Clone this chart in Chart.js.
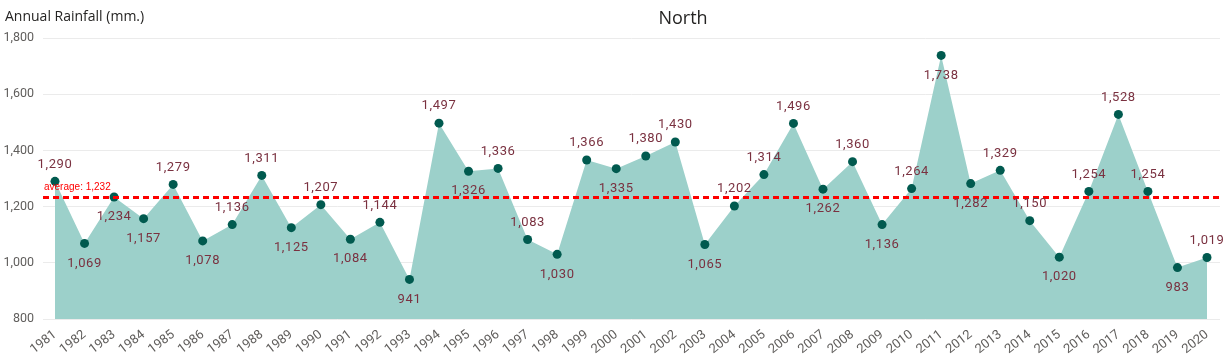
<!DOCTYPE html>
<html>
<head>
<meta charset="utf-8">
<script src="https://cdn.jsdelivr.net/npm/chart.js@4.4.1/dist/chart.umd.min.js"></script>
<style>
  html, body { margin: 0; padding: 0; background: #fff; }
  #wrap { width: 1225px; height: 357px; position: relative; }
</style>
</head>
<body>
<div id="wrap"><canvas id="c" width="1225" height="357"></canvas></div>
<script>
const years = [1981,1982,1983,1984,1985,1986,1987,1988,1989,1990,1991,1992,1993,1994,1995,1996,1997,1998,1999,2000,2001,2002,2003,2004,2005,2006,2007,2008,2009,2010,2011,2012,2013,2014,2015,2016,2017,2018,2019,2020];
const rainfall = [1290,1069,1234,1157,1279,1078,1136,1311,1125,1207,1084,1144,941,1497,1326,1336,1083,1030,1366,1335,1380,1430,1065,1202,1314,1496,1262,1360,1136,1264,1738,1282,1329,1150,1020,1254,1528,1254,983,1019];
const labelPos = ['a','b','b','b','a','b','a','a','b','a','b','a','b','a','b','a','a','b','a','b','a','a','b','a','a','a','b','a','b','a','b','b','a','a','b','a','a','a','b','a'];
const yTicks = [800,1000,1200,1400,1600,1800];
const averageValue = 1232;
const chartTitle = 'North';
const axisTitle = 'Annual Rainfall (mm.)';

const fmt = v => v.toLocaleString('en-US');

const overlay = {
  id: 'overlay',
  afterDatasetsDraw(chart) {
    const ctx = chart.ctx, area = chart.chartArea;
    const ys = chart.scales.y;
    const yAvg = ys.getPixelForValue(averageValue);
    ctx.save();
    ctx.strokeStyle = '#ff0000';
    ctx.lineWidth = 3;
    ctx.setLineDash([6, 4]);
    ctx.beginPath();
    ctx.moveTo(area.left, yAvg);
    ctx.lineTo(area.right, yAvg);
    ctx.stroke();
    ctx.setLineDash([]);
    ctx.fillStyle = '#ff0000';
    ctx.font = '10px "Liberation Sans", Arial, sans-serif';
    ctx.textAlign = 'left';
    ctx.textBaseline = 'alphabetic';
    ctx.fillText('average: ' + fmt(averageValue), area.left + 1, yAvg - 8);
    ctx.restore();
  },
  afterDraw(chart) {
    const ctx = chart.ctx;
    const meta = chart.getDatasetMeta(0);
    ctx.save();
    ctx.fillStyle = '#7a3140';
    ctx.font = '13px Roboto, sans-serif';
    if ('letterSpacing' in ctx) ctx.letterSpacing = '0.6px';
    ctx.textAlign = 'center';
    ctx.textBaseline = 'middle';
    meta.data.forEach((pt, i) => {
      const dy = labelPos[i] === 'a' ? -17 : 20;
      ctx.fillText(fmt(rainfall[i]), pt.x, pt.y + dy);
    });
    if ('letterSpacing' in ctx) ctx.letterSpacing = '0px';
    ctx.fillStyle = '#252423';
    ctx.font = '14px "Open Sans", sans-serif';
    ctx.textAlign = 'left';
    ctx.textBaseline = 'middle';
    ctx.fillText(axisTitle, 5, 17);
    ctx.font = '18px "Open Sans", sans-serif';
    ctx.textAlign = 'center';
    ctx.fillText(chartTitle, 683, 19);
    ctx.restore();
  }
};

new Chart(document.getElementById('c'), {
  type: 'line',
  data: {
    datasets: [{
      data: years.map((y, i) => ({ x: y, y: rainfall[i] })),
      fill: 'start',
      backgroundColor: '#9cd0ca',
      borderWidth: 0,
      borderColor: 'rgba(0,0,0,0)',
      pointRadius: 4.5,
      pointHoverRadius: 4.5,
      pointBackgroundColor: '#015a4f',
      pointBorderWidth: 0,
      tension: 0
    }]
  },
  options: {
    responsive: false,
    animation: false,
    events: [],
    layout: { padding: { top: 38, right: 5, left: 0, bottom: 0 } },
    plugins: { legend: { display: false }, tooltip: { enabled: false }, title: { display: false } },
    scales: {
      x: {
        type: 'linear',
        min: 1980.594,
        max: 2020.44,
        afterBuildTicks: s => { s.ticks = years.map(v => ({ value: v })); },
        afterFit: s => { s.height = 38; },
        grid: { display: false },
        border: { display: false },
        ticks: {
          autoSkip: false,
          minRotation: 38,
          maxRotation: 38,
          padding: 0,
          color: '#605e5c',
          font: { family: 'Roboto', size: 13 },
          callback: v => String(v)
        }
      },
      y: {
        min: 800,
        max: 1800,
        afterBuildTicks: s => { s.ticks = yTicks.map(v => ({ value: v })); },
        afterFit: s => { s.width = 43; },
        grid: { color: '#ebebeb', drawTicks: false },
        border: { display: false },
        ticks: {
          padding: 9,
          color: '#605e5c',
          font: { family: 'Roboto', size: 12.5 },
          callback: v => fmt(v)
        }
      }
    }
  },
  plugins: [overlay]
});
</script>
</body>
</html>
